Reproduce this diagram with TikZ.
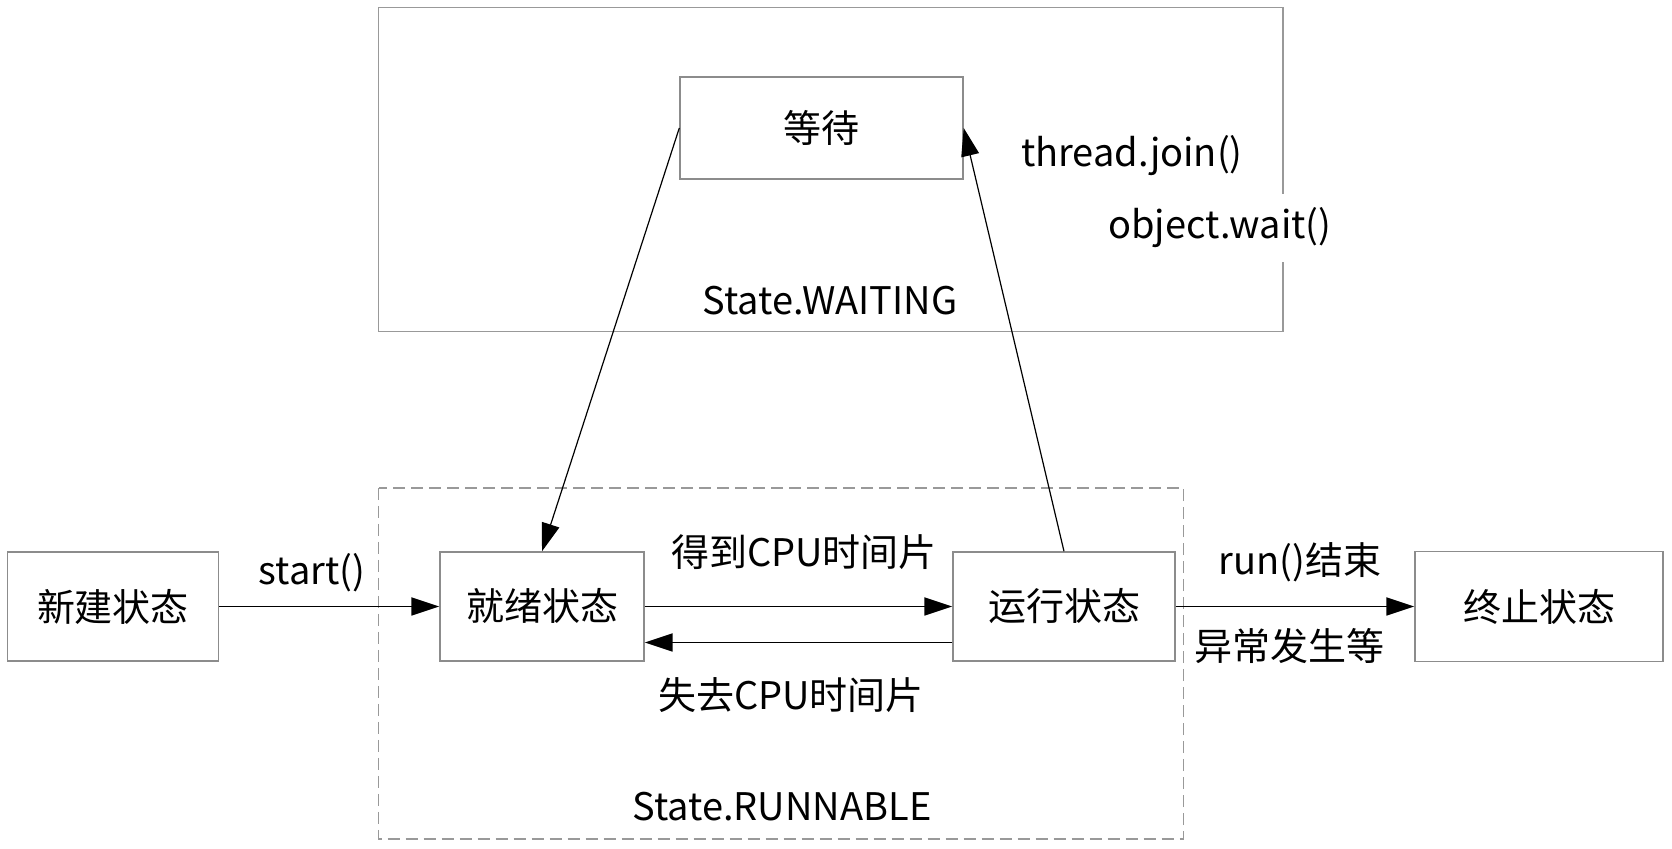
\documentclass[tikz,border=0pt]{standalone}
\usepackage{fontspec}
\setmainfont{Noto Sans CJK SC}
\usetikzlibrary{arrows.meta}
\begin{document}
\begin{tikzpicture}[x=0.5pt,y=-0.5pt,
  font=\fontsize{19}{23}\selectfont,
  box/.style={draw=black!45,line width=0.7pt,fill=white,inner sep=0pt},
  cont/.style={draw=black!40,line width=0.7pt},
  lbl/.style={fill=white,inner sep=2pt},
  arr/.style={black,line width=0.9pt,-{Triangle[length=14pt,width=9pt]}},
  darr/.style={black,line width=0.6pt,-{Triangle[length=14pt,width=9pt]}}]
\useasboundingbox (0,0) rectangle (1672,849);
% containers
\draw[cont] (378.5,7.5) rectangle (1283,331.6);
\draw[cont,dashed,dash pattern=on 6pt off 3pt] (378.5,488) rectangle (1183.6,839);
% state nodes
\node[box,minimum width=105.5pt,minimum height=54.5pt] (xinjian) at (113,606.5) {新建状态};
\node[box,minimum width=102pt,minimum height=54.5pt] (jiuxu) at (542,606.5) {就绪状态};
\node[box,minimum width=111pt,minimum height=54.5pt] (yunxing) at (1064,606.5) {运行状态};
\node[box,minimum width=124pt,minimum height=55pt] (zhongzhi) at (1539,606.5) {终止状态};
\node[box,minimum width=141.5pt,minimum height=51pt] (dengdai) at (821.5,128) {等待};
% labels
\node[lbl] (lstart) at (312,573) {start()};
\node[lbl] (lget) at (804,552) {得到CPU时间片};
\node[lbl] (llose) at (791,695) {失去CPU时间片};
\node[lbl] (lrun) at (1300,562) {run()结束};
\node[lbl] (lexc) at (1289,646) {异常发生等};
\node[lbl] (ljoin) at (1132,156) {thread.join()};
\node[lbl,inner ysep=7pt] (lwait) at (1220,228) {object.wait()};
\node (lwaiting) at (830,301) {State.WAITING};
\node (lrunnable) at (782,807) {State.RUNNABLE};
% connectors
\draw[arr] (xinjian.east) -- (jiuxu.west);
\draw[arr] (jiuxu.east) -- (yunxing.west);
\draw[arr] ([yshift=-18pt]yunxing.west) -- ([yshift=-18pt]jiuxu.east);
\draw[arr] (yunxing.east) -- (zhongzhi.west);
\draw[darr] (dengdai.west) -- (jiuxu.north);
\draw[darr] (yunxing.north) -- (dengdai.east);
\end{tikzpicture}
\end{document}
